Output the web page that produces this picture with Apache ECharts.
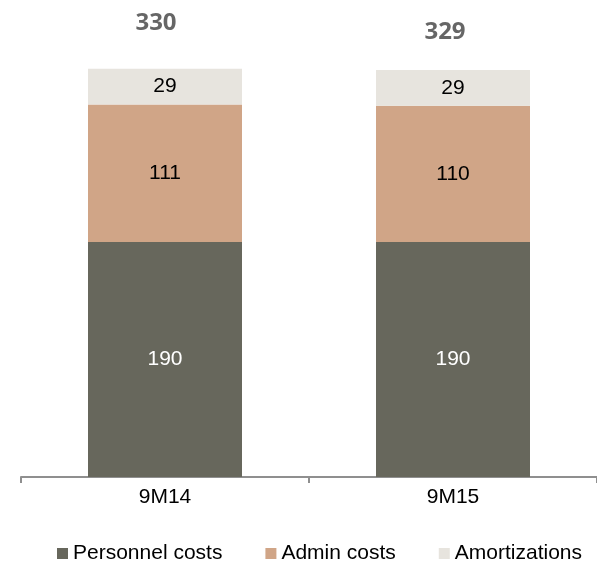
<!DOCTYPE html>
<html><head><meta charset="utf-8">
<script src="https://cdn.jsdelivr.net/npm/echarts@6/dist/echarts.min.js"></script>
<style>html,body{margin:0;padding:0;background:#fff}#c{width:597px;height:568px}</style>
</head><body><div id="c"></div>
<script>
const categories = ['9M14', '9M15'];
const personnel = [190, 190];
const admin = [111, 110];
const amort = [29, 29];
const totals = [330, 329];
const totalLabelOffsets = [[-9, -46], [-8, -38]];

const chart = echarts.init(document.getElementById('c'), null, {renderer: 'canvas'});
const segLabel = (color) => ({show: true, position: 'inside', color: color, fontSize: 21, fontFamily: 'Liberation Sans, Arial, sans-serif'});
chart.setOption({
  animation: false,
  grid: {left: 21, width: 590, top: 44, bottom: 91, containLabel: false},
  legend: {
    left: 52, top: 538, itemWidth: 11, itemHeight: 11, itemGap: 43,
    icon: 'rect',
    textStyle: {fontSize: 21, color: '#000', fontFamily: 'Liberation Sans, Arial, sans-serif'},
    data: ['Personnel costs', 'Admin costs', 'Amortizations']
  },
  xAxis: {
    type: 'category', data: categories,
    axisLine: {lineStyle: {color: '#8f8f8f', width: 2}},
    axisTick: {show: true, length: 6, lineStyle: {color: '#8f8f8f', width: 2}},
    axisLabel: {fontSize: 21, color: '#000', margin: 10, fontFamily: 'Liberation Sans, Arial, sans-serif'}
  },
  yAxis: {type: 'value', min: 0, max: 350, show: false, splitLine: {show: false}},
  series: [
    {name: 'Personnel costs', type: 'bar', stack: 's', barWidth: 154, data: personnel,
     itemStyle: {color: '#67675c'}, label: segLabel('#fff')},
    {name: 'Admin costs', type: 'bar', stack: 's', barWidth: 154, data: admin,
     itemStyle: {color: '#d0a587'}, label: segLabel('#000')},
    {name: 'Amortizations', type: 'bar', stack: 's', barWidth: 154, data: amort,
     itemStyle: {color: '#e7e4de'}, label: segLabel('#000')},
    {name: 'Total', type: 'scatter', symbolSize: 0, silent: true,
     data: totals.map((v, i) => ({value: v, label: {offset: totalLabelOffsets[i]}})),
     label: {show: true, position: 'inside', color: '#404040', fontSize: 24, fontWeight: 'bold', fontFamily: 'Open Sans, sans-serif'}}
  ]
});
</script></body></html>
